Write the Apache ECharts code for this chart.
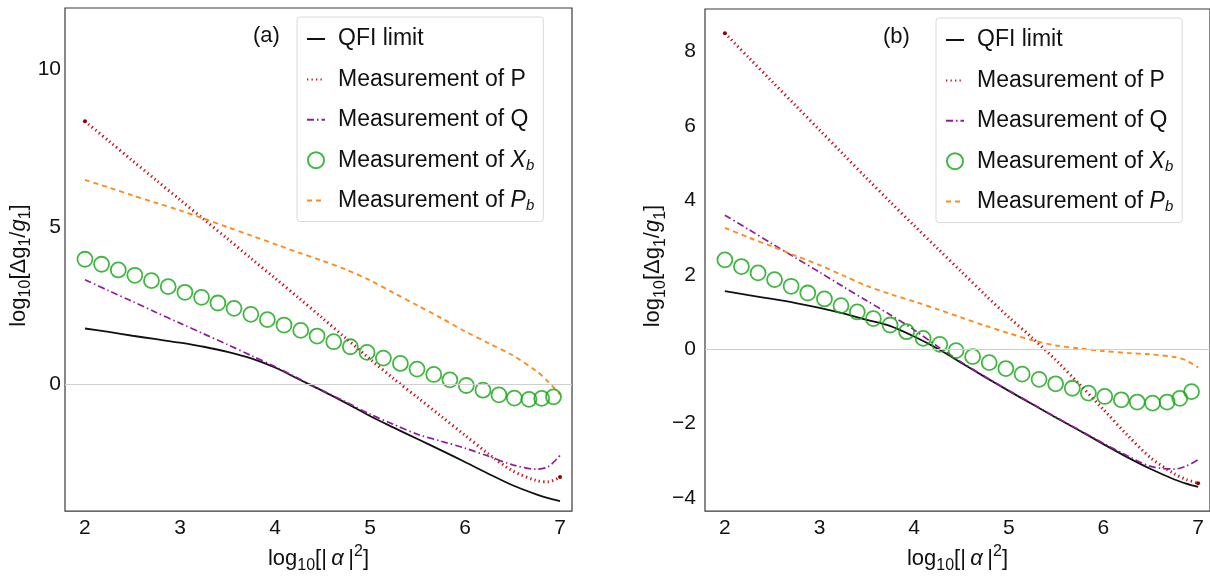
<!DOCTYPE html>
<html><head><meta charset="utf-8">
<script src="https://cdn.jsdelivr.net/npm/echarts@6/dist/echarts.min.js"></script>
<style>html,body{margin:0;padding:0;background:#fff}#c{width:1210px;height:579px}</style>
</head><body><div id="c"></div>
<script>
// ---- data ----
const xGrid = [2, 2.25, 2.5, 2.75, 3, 3.25, 3.5, 3.75, 4, 4.25, 4.5, 4.75, 5, 5.25, 5.5, 5.75, 6, 6.25, 6.5, 6.75, 6.875, 7];
const circleX = [2.000, 2.175, 2.351, 2.525, 2.700, 2.876, 3.052, 3.227, 3.399, 3.569, 3.746, 3.920, 4.095, 4.271, 4.443, 4.618, 4.793, 4.969, 5.141, 5.320, 5.495, 5.671, 5.841, 6.014, 6.189, 6.357, 6.519, 6.673, 6.807, 6.931];

// panel (a)
const qfiA = [1.77, 1.66, 1.54, 1.43, 1.32, 1.19, 1.03, 0.82, 0.53, 0.16, -0.21, -0.60, -1.01, -1.38, -1.74, -2.10, -2.47, -2.85, -3.21, -3.50, -3.62, -3.71];
const pA   = [8.35, 7.73, 7.10, 6.48, 5.86, 5.24, 4.62, 3.99, 3.37, 2.74, 2.10, 1.45, 0.80, 0.17, -0.42, -1.02, -1.62, -2.22, -2.75, -3.06, -3.10, -2.95];
const qA   = [3.32, 2.97, 2.63, 2.28, 1.94, 1.60, 1.26, 0.91, 0.56, 0.18, -0.20, -0.57, -0.95, -1.28, -1.59, -1.81, -2.03, -2.29, -2.56, -2.70, -2.62, -2.26];
const pbA  = [6.49, 6.25, 6.00, 5.76, 5.52, 5.26, 4.99, 4.72, 4.45, 4.18, 3.92, 3.64, 3.30, 2.90, 2.50, 2.10, 1.68, 1.30, 0.92, 0.42, 0.08, -0.32];
const xbA  = [3.97, 3.81, 3.63, 3.46, 3.29, 3.10, 2.92, 2.76, 2.58, 2.41, 2.22, 2.05, 1.88, 1.71, 1.53, 1.35, 1.19, 1.01, 0.83, 0.66, 0.48, 0.31, 0.14, -0.04, -0.19, -0.34, -0.44, -0.48, -0.45, -0.40];

// panel (b)
const qfiB = [1.56, 1.45, 1.35, 1.24, 1.11, 0.96, 0.79, 0.62, 0.34, 0.01, -0.37, -0.75, -1.12, -1.48, -1.84, -2.19, -2.55, -2.90, -3.22, -3.50, -3.61, -3.70];
const pB   = [8.49, 7.84, 7.19, 6.54, 5.89, 5.24, 4.59, 3.95, 3.32, 2.70, 2.08, 1.46, 0.86, 0.30, -0.30, -0.95, -1.62, -2.30, -2.92, -3.35, -3.50, -3.60];
const qB   = [3.60, 3.22, 2.83, 2.45, 2.07, 1.68, 1.30, 0.92, 0.52, 0.07, -0.35, -0.74, -1.11, -1.47, -1.83, -2.18, -2.53, -2.86, -3.15, -3.22, -3.14, -2.97];
const pbB  = [3.26, 3.00, 2.76, 2.51, 2.26, 1.98, 1.70, 1.48, 1.28, 1.07, 0.85, 0.63, 0.43, 0.24, 0.10, 0.02, -0.05, -0.10, -0.14, -0.21, -0.30, -0.49];
const xbB  = [2.40, 2.22, 2.05, 1.87, 1.69, 1.51, 1.35, 1.17, 1.00, 0.82, 0.65, 0.47, 0.29, 0.13, -0.04, -0.20, -0.36, -0.52, -0.67, -0.81, -0.93, -1.05, -1.18, -1.27, -1.36, -1.42, -1.45, -1.42, -1.32, -1.14];

const xTicks = [2, 3, 4, 5, 6, 7];
const yTicksA = [0, 5, 10];
const yTicksB = [-4, -2, 0, 2, 4, 6, 8];
const seriesNames = ['QFI limit', 'Measurement of P', 'Measurement of Q', 'Measurement of Xb', 'Measurement of Pb'];
const panelLabels = ['(a)', '(b)'];

// ---- styling ----
const FONT = "'Liberation Sans', Arial, sans-serif";
const TXT = '#111';
const C = { qfi: '#111111', p: '#c4101a', pEnd: '#8b0000', q: '#8e1e96', xb: '#12a512', pb: '#ff8c1a' };

const pairs = (xs, ys) => ys.map((y, i) => [xs[i], y]);
const minus = v => String(v).replace('-', '\u2212');

const richName = {
  sub: { fontSize: 16, fontFamily: FONT, color: TXT, verticalAlign: 'bottom', lineHeight: 16 },
  sup: { fontSize: 16, fontFamily: FONT, color: TXT, verticalAlign: 'top', lineHeight: 16 },
  it: { fontSize: 22, fontFamily: FONT, color: TXT, fontStyle: 'italic', lineHeight: 30 }
};
const nameStyle = { fontSize: 22, fontFamily: FONT, color: TXT, lineHeight: 30, rich: richName };

const gridBox = [
  { left: 65, top: 8, width: 507, height: 508 },
  { left: 705, top: 9, width: 506, height: 506 }
];
const yRanges = [[-4.03, 11.95], [-4.35, 9.14]];
const yTicks = [yTicksA, yTicksB];
const yNameGap = [30, 33];
const yLabelMargin = [4, 9];
const legendPos = [[297, 17], [936, 18]];
const labelPos = [[253, 25], [883, 26]];

const panels = [
  { qfi: qfiA, p: pA, q: qA, xb: xbA, pb: pbA },
  { qfi: qfiB, p: pB, q: qB, xb: xbB, pb: pbB }
];

const series = [];
panels.forEach((d, k) => {
  series.push({
    name: seriesNames[0], type: 'line', xAxisIndex: k, yAxisIndex: k, z: 2,
    data: pairs(xGrid, d.qfi), symbol: 'none', showSymbol: false, smooth: 0.3,
    lineStyle: { color: C.qfi, width: 1.8 }, itemStyle: { color: C.qfi },
    markLine: { silent: true, symbol: ['none', 'none'], label: { show: false },
      lineStyle: { color: '#cfcfcf', width: 1, type: 'solid' }, data: [{ yAxis: 0 }] }
  });
  const last = d.p.length - 1;
  series.push({
    name: seriesNames[1], type: 'line', xAxisIndex: k, yAxisIndex: k, z: 3,
    data: pairs(xGrid, d.p).map((v, i) => (i === 0 || i === last)
      ? { value: v, symbol: 'circle', symbolSize: 4, itemStyle: { color: C.pEnd } } : v),
    symbol: 'none', showSymbol: true, smooth: 0.3,
    lineStyle: { color: C.p, width: 3, type: [1.3, 3.2] }, itemStyle: { color: C.p }
  });
  series.push({
    name: seriesNames[2], type: 'line', xAxisIndex: k, yAxisIndex: k, z: 3,
    data: pairs(xGrid, d.q), symbol: 'none', showSymbol: false, smooth: 0.3,
    lineStyle: { color: C.q, width: 1.7, type: [7, 3, 1.5, 3] }, itemStyle: { color: C.q }
  });
  series.push({
    name: seriesNames[3], type: 'scatter', xAxisIndex: k, yAxisIndex: k, z: 4,
    data: pairs(circleX, d.xb), symbol: 'circle', symbolSize: 15,
    itemStyle: { color: 'rgba(255,255,255,0)', borderColor: C.xb, borderWidth: 1.8 }
  });
  series.push({
    name: seriesNames[4], type: 'line', xAxisIndex: k, yAxisIndex: k, z: 3,
    data: pairs(xGrid, d.pb), symbol: 'none', showSymbol: false, smooth: 0.3,
    lineStyle: { color: C.pb, width: 1.9, type: [5, 4] }, itemStyle: { color: C.pb }
  });
});

const legendRich = {
  i: { fontSize: 23, fontFamily: FONT, color: TXT, fontStyle: 'italic', lineHeight: 26 },
  s: { fontSize: 15, fontFamily: FONT, color: TXT, fontStyle: 'italic', verticalAlign: 'bottom', lineHeight: 15 }
};
const legendFormatter = n => {
  if (n.endsWith('Xb')) return 'Measurement of {i|X}{s|b}';
  if (n.endsWith('Pb')) return 'Measurement of {i|P}{s|b}';
  return n;
};
const legendData = seriesNames.map(n => n.endsWith('Xb') ? { name: n }
  : { name: n, itemStyle: { color: 'rgba(0,0,0,0)', borderColor: 'rgba(0,0,0,0)', borderWidth: 0 } });

const option = {
  animation: false,
  backgroundColor: '#fff',
  grid: gridBox.map(g => Object.assign({ show: true, borderColor: '#3a3a3a', borderWidth: 1.2, backgroundColor: 'rgba(0,0,0,0)' }, g)),
  xAxis: [0, 1].map(k => ({
    gridIndex: k, type: 'value', min: 1.79, max: 7.126,
    axisLine: { show: false }, axisTick: { show: false }, splitLine: { show: false },
    axisLabel: { customValues: xTicks, fontSize: 21, fontFamily: FONT, color: TXT, margin: 7 },
    name: 'log{sub|10}[|\u2009{it|α}\u2009|{sup|2}]', nameLocation: 'middle', nameGap: 30, nameTextStyle: nameStyle
  })),
  yAxis: [0, 1].map(k => ({
    gridIndex: k, type: 'value', min: yRanges[k][0], max: yRanges[k][1],
    axisLine: { show: false }, axisTick: { show: false }, splitLine: { show: false },
    axisLabel: { customValues: yTicks[k], fontSize: 21, fontFamily: FONT, color: TXT, margin: yLabelMargin[k], formatter: minus },
    name: 'log{sub|10}[Δg{sub|1}/{it|g}{sub|1}]', nameLocation: 'middle', nameGap: yNameGap[k],
    nameTextStyle: Object.assign({}, nameStyle, { padding: [0, 12, 0, 0] })
  })),
  legend: [0, 1].map(k => ({
    left: legendPos[k][0], top: legendPos[k][1], orient: 'vertical', data: legendData,
    selectedMode: false, itemWidth: 18, itemHeight: 16, itemGap: 14.4,
    padding: [9, 9, 8, 9], backgroundColor: '#fff', borderColor: '#d9d9d9', borderWidth: 1, borderRadius: 3,
    textStyle: { fontSize: 23, fontFamily: FONT, color: TXT, lineHeight: 26, padding: [0, 0, 0, 8], rich: legendRich },
    formatter: legendFormatter
  })),
  graphic: panelLabels.map((t, k) => ({
    type: 'text', left: labelPos[k][0], top: labelPos[k][1], z: 10,
    style: { text: t, fontSize: 22, fontFamily: FONT, fill: TXT }
  })),
  series
};

const chart = echarts.init(document.getElementById('c'), null, { renderer: 'canvas' });
chart.setOption(option);
</script>
</body></html>
